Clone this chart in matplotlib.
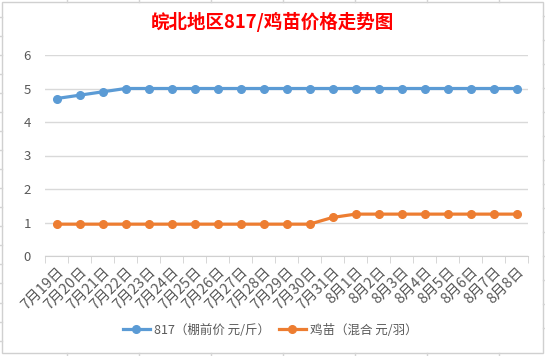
import matplotlib.pyplot as plt
from matplotlib.lines import Line2D
from matplotlib.patches import Rectangle

plt.rcParams['font.family'] = ['Noto Sans CJK SC', 'DejaVu Sans']

dates = ['7月19日', '7月20日', '7月21日', '7月22日', '7月23日', '7月24日', '7月25日',
         '7月26日', '7月27日', '7月28日', '7月29日', '7月30日', '7月31日', '8月1日',
         '8月2日', '8月3日', '8月4日', '8月5日', '8月6日', '8月7日', '8月8日']
price_817 = [4.7, 4.8, 4.9, 5.0, 5.0, 5.0, 5.0, 5.0, 5.0, 5.0, 5.0,
             5.0, 5.0, 5.0, 5.0, 5.0, 5.0, 5.0, 5.0, 5.0, 5.0]
price_chick = [0.95, 0.95, 0.95, 0.95, 0.95, 0.95, 0.95, 0.95, 0.95, 0.95, 0.95,
               0.95, 1.15, 1.25, 1.25, 1.25, 1.25, 1.25, 1.25, 1.25, 1.25]
label_817 = '817（棚前价 元/斤）'
label_chick = '鸡苗（混合 元/羽）'
title = '皖北地区817/鸡苗价格走势图'

W, H = 545, 356
fig = plt.figure(figsize=(W / 100, H / 100), dpi=100)
fig.patch.set_facecolor('white')

# spreadsheet cell stubs around the chart box
grey = '#d4d4d4'
for x in [67, 139, 211, 283, 355, 427, 499]:
    fig.add_artist(Line2D([x / W, x / W], [1, 1 - 2 / H], color=grey, lw=1))
    fig.add_artist(Line2D([x / W, x / W], [0, 3 / H], color=grey, lw=1))
for y in [16, 40, 64, 88, 112, 136, 160, 184, 208, 232, 256, 280, 304, 328]:
    fig.add_artist(Line2D([543 / W, 1], [1 - y / H, 1 - y / H], color=grey, lw=1))
for y in [17, 36, 55, 74, 93, 112, 131, 150, 169, 188, 207, 226, 245, 264, 283, 303, 322, 341]:
    fig.add_artist(Line2D([0, 2 / W], [1 - y / H, 1 - y / H], color=grey, lw=1))
fig.add_artist(Rectangle((2 / W, 1 - 353 / H), 541 / W, 351 / H, fill=False,
                         edgecolor='#d0d0d0', lw=1, transform=fig.transFigure))

ax = fig.add_axes([45 / W, 1 - 256 / H, (528 - 45) / W, (256 - 55) / H])
x = list(range(len(dates)))
ax.plot(x, price_817, color='#5B9BD5', lw=2.3, marker='o', markersize=5.5, label=label_817)
ax.plot(x, price_chick, color='#ED7D31', lw=2.3, marker='o', markersize=5.5, label=label_chick)

ax.set_ylim(0, 6)
ax.set_xlim(-0.5, len(dates) - 0.5)
ax.set_yticks(range(0, 7))
ax.yaxis.grid(True, color='#d9d9d9', lw=1)
ax.set_axisbelow(True)
for s in ['top', 'right', 'left']:
    ax.spines[s].set_visible(False)
ax.spines['bottom'].set_color('#d0d0d0')
ax.tick_params(axis='y', length=0, labelsize=9.5, labelcolor='#595959', pad=10)

ax.set_xticks([i - 0.5 for i in range(len(dates) + 1)], minor=True)
ax.tick_params(axis='x', which='minor', length=5, color='#d0d0d0')
ax.set_xticks(x)
ax.set_xticklabels(dates, rotation=45, ha='right', va='top', rotation_mode='anchor')
ax.tick_params(axis='x', which='major', length=0, labelsize=10.5, labelcolor='#595959', pad=6)

fig.text(272 / W, 1 - 22 / H, title, color='#FF0000', fontsize=13.3,
         fontweight='bold', ha='center', va='center')

fig.legend(loc='center', bbox_to_anchor=(270 / W, 1 - 330 / H), ncol=2, frameon=False,
           fontsize=9, labelcolor='#595959', handlelength=2.2, columnspacing=0.7,
           handletextpad=0.3)

fig.savefig('out.png', dpi=100)
